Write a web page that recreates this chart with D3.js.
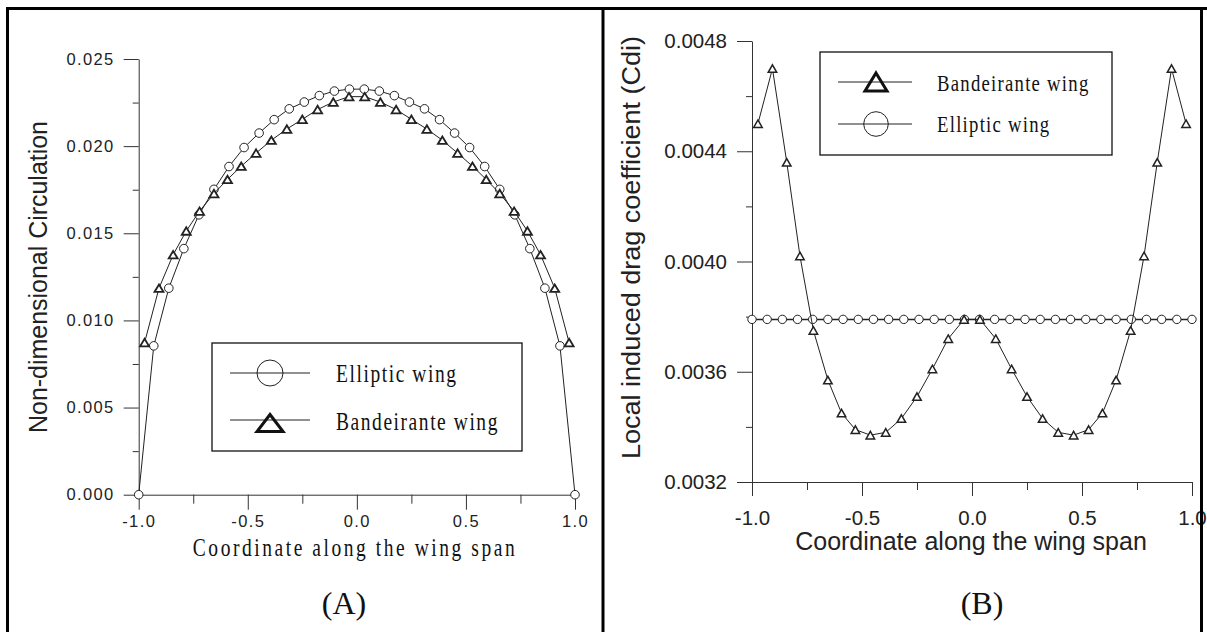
<!DOCTYPE html>
<html>
<head>
<meta charset="utf-8">
<script src="https://cdn.jsdelivr.net/npm/d3@7"></script>
<style>
  body { margin: 0; background: #fff; }
  svg { display: block; }
</style>
</head>
<body>
<svg id="chart" width="1207" height="632"></svg>
<script>
// spanwise stations
const spanElliptic = [-1, -0.931, -0.862, -0.793, -0.724, -0.655, -0.586, -0.517, -0.448, -0.379, -0.310, -0.241, -0.172, -0.103, -0.034,
  0.034, 0.103, 0.172, 0.241, 0.310, 0.379, 0.448, 0.517, 0.586, 0.655, 0.724, 0.793, 0.862, 0.931, 1];
const spanBandeirante = [-0.973, -0.907, -0.842, -0.782, -0.721, -0.655, -0.593, -0.530, -0.462, -0.392, -0.321, -0.250, -0.180, -0.108, -0.036,
  0.036, 0.108, 0.180, 0.250, 0.321, 0.392, 0.462, 0.530, 0.593, 0.655, 0.721, 0.782, 0.842, 0.907, 0.973];

// (A) non-dimensional circulation
const circElliptic = [0, 0.00854, 0.01185, 0.01412, 0.01606, 0.01752, 0.01883, 0.01992, 0.02075, 0.02152, 0.02214, 0.02253, 0.02290, 0.02316, 0.02327,
  0.02327, 0.02316, 0.02290, 0.02253, 0.02214, 0.02152, 0.02075, 0.01992, 0.01883, 0.01752, 0.01606, 0.01412, 0.01185, 0.00854, 0];
const circBandeirante = [0.00873, 0.01185, 0.01377, 0.01513, 0.01627, 0.01728, 0.01809, 0.01885, 0.01960, 0.02034, 0.02098, 0.02154, 0.02210, 0.02253, 0.02284,
  0.02284, 0.02253, 0.02210, 0.02154, 0.02098, 0.02034, 0.01960, 0.01885, 0.01809, 0.01728, 0.01627, 0.01513, 0.01377, 0.01185, 0.00873];

// (B) local induced drag coefficient
const cdiBandeirante = [0.00450, 0.00470, 0.00436, 0.00402, 0.00375, 0.00357, 0.00345, 0.00339, 0.00337, 0.00338, 0.00343, 0.00351, 0.00361, 0.00372, 0.00379,
  0.00379, 0.00372, 0.00361, 0.00351, 0.00343, 0.00338, 0.00337, 0.00339, 0.00345, 0.00357, 0.00375, 0.00402, 0.00436, 0.00470, 0.00450];
const cdiElliptic = [0.00379, 0.00379, 0.00379, 0.00379, 0.00379, 0.00379, 0.00379, 0.00379, 0.00379, 0.00379, 0.00379, 0.00379, 0.00379, 0.00379, 0.00379,
  0.00379, 0.00379, 0.00379, 0.00379, 0.00379, 0.00379, 0.00379, 0.00379, 0.00379, 0.00379, 0.00379, 0.00379, 0.00379, 0.00379, 0.00379];

// ticks
const spanMajor = [-1, -0.5, 0, 0.5, 1];
const spanMinor = [-0.75, -0.25, 0.25, 0.75];
const spanLabels = ["-1.0", "-0.5", "0.0", "0.5", "1.0"];
const circMajor = [0, 0.005, 0.010, 0.015, 0.020, 0.025];
const circMinor = [0.0025, 0.0075, 0.0125, 0.0175, 0.0225];
const cdiMajor = [0.0032, 0.0036, 0.0040, 0.0044, 0.0048];
const cdiMinor = [0.0034, 0.0038, 0.0042, 0.0046];

const SANS = "'Liberation Sans', Arial, sans-serif";
const SERIF = "'Liberation Serif', 'Times New Roman', serif";
const INK = "#222";

const svg = d3.select("#chart");

function triPath(w, h) {
  return `M0,${-h / 2}L${w / 2},${h / 2}L${-w / 2},${h / 2}Z`;
}

function drawAxes(g, x, y, opt) {
  // minor ticks
  g.append("g")
    .attr("transform", `translate(0,${y.range()[0]})`)
    .call(d3.axisBottom(x).tickValues(spanMinor).tickSize(opt.xMinor).tickFormat("").tickSizeOuter(0))
    .call(a => a.select(".domain").remove());
  g.append("g")
    .attr("transform", `translate(${x.range()[0]},0)`)
    .call(d3.axisLeft(y).tickValues(opt.yMinor).tickSize(6).tickFormat("").tickSizeOuter(0))
    .call(a => a.select(".domain").remove());

  const xa = g.append("g")
    .attr("transform", `translate(0,${y.range()[0]})`)
    .call(d3.axisBottom(x).tickValues(spanMajor).tickSize(opt.xMajor).tickSizeOuter(0)
      .tickFormat((d, i) => spanLabels[i]));
  xa.selectAll("text")
    .attr("y", opt.xLabelY).attr("dy", 0)
    .attr("font-size", opt.tickFont).attr("font-family", SANS)
    .attr("letter-spacing", opt.ls).attr("fill", INK);

  const ya = g.append("g")
    .attr("transform", `translate(${x.range()[0]},0)`)
    .call(d3.axisLeft(y).tickValues(opt.yMajor).tickSize(15).tickPadding(opt.yPad).tickSizeOuter(0)
      .tickFormat(opt.yFormat));
  ya.selectAll("text")
    .attr("font-size", opt.tickFont).attr("font-family", SANS)
    .attr("letter-spacing", opt.ls).attr("fill", INK);

  g.selectAll(".domain, .tick line").attr("stroke", "#333").attr("stroke-width", 1);
}

function drawSeries(g, x, y, xs, ys, marker, m) {
  const pts = xs.map((d, i) => [d, ys[i]]);
  g.append("path")
    .datum(pts)
    .attr("fill", "none")
    .attr("stroke", INK)
    .attr("stroke-width", m.line)
    .attr("d", d3.line().x(d => x(d[0])).y(d => y(d[1])));
  if (marker === "circle") {
    g.selectAll(null).data(pts).enter().append("circle")
      .attr("cx", d => x(d[0])).attr("cy", d => y(d[1]))
      .attr("r", m.r).attr("fill", "#fff").attr("stroke", INK).attr("stroke-width", 1);
  } else {
    g.selectAll(null).data(pts).enter().append("path")
      .attr("transform", d => `translate(${x(d[0])},${y(d[1])})`)
      .attr("d", triPath(m.w, m.h))
      .attr("fill", "#fff").attr("stroke", INK).attr("stroke-width", m.sw);
  }
}

function legendText(g, tx, ty, label, size, ls) {
  g.append("g")
    .attr("transform", `translate(${tx},${ty}) scale(0.78,1)`)
    .append("text")
    .attr("font-family", SERIF).attr("font-size", size)
    .attr("letter-spacing", ls).attr("fill", "#111")
    .text(label);
}

// ---------- panel A ----------
const xA = d3.scaleLinear().domain([-1, 1]).range([138.7, 575]);
const yA = d3.scaleLinear().domain([0, 0.025]).range([494.7, 59]);
const gA = svg.append("g");

drawAxes(gA, xA, yA, {
  xMinor: 9, xMajor: 15, yMinor: circMinor, yMajor: circMajor,
  xLabelY: 32, yPad: 9, tickFont: 16.5, ls: 1.4, yFormat: d3.format(".3f")
});
drawSeries(gA, xA, yA, spanElliptic, circElliptic, "circle", { r: 4.3, line: 1 });
drawSeries(gA, xA, yA, spanBandeirante, circBandeirante, "tri", { w: 9, h: 7.5, sw: 1.8, line: 1 });

gA.append("text")
  .attr("transform", "translate(47,277) rotate(-90)")
  .attr("text-anchor", "middle")
  .attr("font-family", SANS).attr("font-size", 25)
  .attr("textLength", 312).attr("lengthAdjust", "spacingAndGlyphs")
  .attr("fill", INK)
  .text("Non-dimensional Circulation");

gA.append("g")
  .attr("transform", "translate(355,556) scale(0.75,1)")
  .append("text")
  .attr("text-anchor", "middle")
  .attr("font-family", SERIF).attr("font-size", 26)
  .attr("letter-spacing", 3.4).attr("fill", "#111")
  .text("Coordinate along the wing span");

// legend A
const lgA = gA.append("g");
lgA.append("rect").attr("x", 212).attr("y", 343).attr("width", 310).attr("height", 108)
  .attr("fill", "#fff").attr("stroke", "#111").attr("stroke-width", 1.3);
lgA.append("line").attr("x1", 230).attr("x2", 310).attr("y1", 373).attr("y2", 373).attr("stroke", INK);
lgA.append("circle").attr("cx", 270).attr("cy", 373).attr("r", 13).attr("fill", "none").attr("stroke", INK);
legendText(lgA, 336, 382, "Elliptic wing", 25, 2);
lgA.append("line").attr("x1", 230).attr("x2", 310).attr("y1", 420).attr("y2", 420).attr("stroke", INK);
lgA.append("path").attr("transform", "translate(270,423)").attr("d", triPath(26, 17))
  .attr("fill", "none").attr("stroke", "#111").attr("stroke-width", 3);
legendText(lgA, 336, 430, "Bandeirante wing", 25, 2);

gA.append("text")
  .attr("x", 344).attr("y", 614).attr("text-anchor", "middle")
  .attr("font-family", SERIF).attr("font-size", 32).attr("fill", "#111")
  .text("(A)");

// ---------- panel B ----------
const xB = d3.scaleLinear().domain([-1, 1]).range([752, 1192]);
const yB = d3.scaleLinear().domain([0.0032, 0.0048]).range([482, 41]);
const gB = svg.append("g");

drawAxes(gB, xB, yB, {
  xMinor: 8, xMajor: 14, yMinor: cdiMinor, yMajor: cdiMajor,
  xLabelY: 43, yPad: 10, tickFont: 20.5, ls: 0, yFormat: d3.format(".4f")
});
drawSeries(gB, xB, yB, spanElliptic, cdiElliptic, "circle", { r: 4.2, line: 1.5 });
drawSeries(gB, xB, yB, spanBandeirante, cdiBandeirante, "tri", { w: 8.5, h: 7.5, sw: 1.5, line: 1 });

gB.append("text")
  .attr("transform", "translate(640,247.5) rotate(-90)")
  .attr("text-anchor", "middle")
  .attr("font-family", SANS).attr("font-size", 25)
  .attr("textLength", 423).attr("lengthAdjust", "spacingAndGlyphs")
  .attr("fill", INK)
  .text("Local induced drag coefficient (Cdi)");

gB.append("text")
  .attr("x", 971).attr("y", 550).attr("text-anchor", "middle")
  .attr("font-family", SANS).attr("font-size", 25).attr("fill", INK)
  .text("Coordinate along the wing span");

// legend B
const lgB = gB.append("g");
lgB.append("rect").attr("x", 820).attr("y", 52).attr("width", 292).attr("height", 103)
  .attr("fill", "#fff").attr("stroke", "#111").attr("stroke-width", 1.3);
lgB.append("line").attr("x1", 838).attr("x2", 912).attr("y1", 82).attr("y2", 82).attr("stroke", INK);
lgB.append("path").attr("transform", "translate(876,82)").attr("d", triPath(22, 18))
  .attr("fill", "none").attr("stroke", "#111").attr("stroke-width", 3);
legendText(lgB, 937, 91, "Bandeirante wing", 24, 1.6);
lgB.append("line").attr("x1", 838).attr("x2", 912).attr("y1", 124).attr("y2", 124).attr("stroke", INK);
lgB.append("circle").attr("cx", 876).attr("cy", 124).attr("r", 12.3).attr("fill", "none").attr("stroke", INK);
legendText(lgB, 937, 132, "Elliptic wing", 24, 1.6);

gB.append("text")
  .attr("x", 982).attr("y", 614).attr("text-anchor", "middle")
  .attr("font-family", SERIF).attr("font-size", 32).attr("fill", "#111")
  .text("(B)");

// ---------- frame ----------
const frame = svg.append("g").attr("stroke", "#000").attr("stroke-width", 3);
frame.append("line").attr("x1", 6).attr("x2", 1207).attr("y1", 8.5).attr("y2", 8.5);
frame.append("line").attr("x1", 7.5).attr("x2", 7.5).attr("y1", 7).attr("y2", 632);
frame.append("line").attr("x1", 603).attr("x2", 603).attr("y1", 7).attr("y2", 632);
frame.append("line").attr("x1", 1201.5).attr("x2", 1201.5).attr("y1", 7).attr("y2", 632);
</script>
</body>
</html>
